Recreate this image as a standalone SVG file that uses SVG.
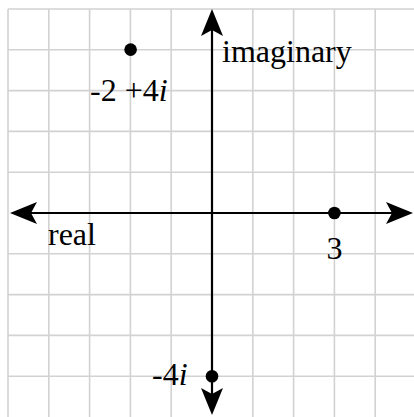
<svg xmlns="http://www.w3.org/2000/svg" width="414" height="417" viewBox="0 0 414 417">
  <style>
    .grid line { stroke: #d2d2d2; stroke-width: 1.6; }
    .axis { stroke: #000; stroke-width: 2.2; fill: none; }
    .head { fill: #000; }
    .dot { fill: #000; }
    .lbl { font-family: 'Liberation Serif', 'Times New Roman', Times, serif; font-size: 32px; fill: #000; }
    .it { font-style: italic; }
  </style>
  <rect width="414" height="417" fill="#fff"/>
  <g id="grid" class="grid">
    <line x1="8" y1="9" x2="8" y2="417"/>
    <line x1="48.8" y1="9" x2="48.8" y2="417"/>
    <line x1="89.6" y1="9" x2="89.6" y2="417"/>
    <line x1="130.4" y1="9" x2="130.4" y2="417"/>
    <line x1="171.2" y1="9" x2="171.2" y2="417"/>
    <line x1="252.8" y1="9" x2="252.8" y2="417"/>
    <line x1="293.6" y1="9" x2="293.6" y2="417"/>
    <line x1="334.4" y1="9" x2="334.4" y2="417"/>
    <line x1="375.2" y1="9" x2="375.2" y2="417"/>
    <line x1="8" y1="9" x2="414" y2="9"/>
    <line x1="8" y1="49.8" x2="414" y2="49.8"/>
    <line x1="8" y1="90.6" x2="414" y2="90.6"/>
    <line x1="8" y1="131.4" x2="414" y2="131.4"/>
    <line x1="8" y1="172.2" x2="414" y2="172.2"/>
    <line x1="8" y1="253.8" x2="414" y2="253.8"/>
    <line x1="8" y1="294.6" x2="414" y2="294.6"/>
    <line x1="8" y1="335.4" x2="414" y2="335.4"/>
    <line x1="8" y1="376.2" x2="414" y2="376.2"/>
  </g>
  <g id="connectors">
    <line class="axis" x1="28" y1="213" x2="395" y2="213"/>
    <line class="axis" x1="212" y1="28" x2="212" y2="397"/>
    <path class="head" d="M212 9 L223 36 L212 30 L201 36 Z"/>
    <path class="head" d="M212 415 L223 388 L212 394 L201 388 Z"/>
    <path class="head" d="M10 213 L37 202 L31 213 L37 224 Z"/>
    <path class="head" d="M413 213 L386 202 L392 213 L386 224 Z"/>
  </g>
  <g id="label-imaginary"><text class="lbl" x="222" y="62" font-family="Liberation Serif, serif">imaginary</text></g>
  <g id="label-real"><text class="lbl" x="48" y="245" font-family="Liberation Serif, serif">real</text></g>
  <g id="point-a">
    <circle class="dot" cx="130.6" cy="49.6" r="6.3"/>
    <text class="lbl" x="90" y="101" font-family="Liberation Serif, serif">-2 +4<tspan class="it">i</tspan></text>
  </g>
  <g id="point-b">
    <circle class="dot" cx="334.4" cy="213" r="6.3"/>
    <text class="lbl" x="334.5" y="259" text-anchor="middle" font-family="Liberation Serif, serif">3</text>
  </g>
  <g id="point-c">
    <circle class="dot" cx="212" cy="376.2" r="6.3"/>
    <text class="lbl" x="152" y="385" font-family="Liberation Serif, serif">-4<tspan class="it">i</tspan></text>
  </g>
</svg>
